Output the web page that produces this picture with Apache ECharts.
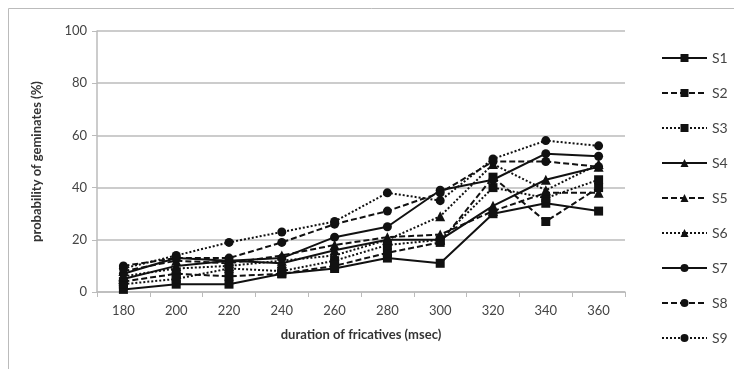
<!DOCTYPE html>
<html>
<head>
<meta charset="utf-8">
<script src="https://cdn.jsdelivr.net/npm/echarts@6/dist/echarts.min.js"></script>
<style>
  html, body { margin: 0; padding: 0; background: #fff; }
  #main { width: 734px; height: 369px; }
</style>
</head>
<body>
<div id="main"></div>
<script>
var durations = ['180', '200', '220', '240', '260', '280', '300', '320', '340', '360'];

var s1 = [1, 3, 3, 7, 9, 13, 11, 30, 34, 31];
var s2 = [4, 7, 6, 7, 10, 15, 19, 44, 27, 40];
var s3 = [3, 5, 9, 8, 12, 18, 20, 40, 36, 43];
var s4 = [5, 10, 12, 11, 16, 20, 20, 33, 43, 48];
var s5 = [8, 12, 11, 14, 18, 21, 22, 31, 38, 38];
var s6 = [6, 9, 10, 12, 14, 20, 29, 49, 39, 49];
var s7 = [7, 13, 12, 13, 21, 25, 39, 43, 53, 52];
var s8 = [10, 13, 13, 19, 26, 31, 38, 50, 50, 48];
var s9 = [9, 14, 19, 23, 27, 38, 35, 51, 58, 56];

var seriesNames = ['S1', 'S2', 'S3', 'S4', 'S5', 'S6', 'S7', 'S8', 'S9'];
var seriesData = [s1, s2, s3, s4, s5, s6, s7, s8, s9];
var lineTypes = ['solid', 'dashed', 'dotted'];
var symbols = ['rect', 'triangle', 'circle'];

var chart = echarts.init(document.getElementById('main'));

var series = seriesNames.map(function (name, i) {
  var sym = symbols[Math.floor(i / 3)];
  var type = lineTypes[i % 3];
  return {
    name: name,
    type: 'line',
    data: seriesData[i],
    symbol: sym,
    symbolSize: sym === 'triangle' ? 10 : 9,
    showAllSymbol: true,
    lineStyle: {
      color: '#111',
      width: 2,
      type: type === 'dashed' ? [6, 3] : (type === 'dotted' ? [2, 2] : 'solid')
    },
    itemStyle: { color: '#111' }
  };
});

chart.setOption({
  animation: false,
  textStyle: { fontFamily: 'Lato, sans-serif' },
  graphic: [{
    type: 'rect',
    shape: { x: 8.5, y: 8.5, width: 760, height: 400 },
    style: { fill: 'none', stroke: '#bbb', lineWidth: 1 }
  }],
  grid: { left: 97, right: 109, top: 31, bottom: 77 },
  legend: {
    orient: 'vertical',
    left: 656,
    top: 46,
    itemWidth: 45,
    itemHeight: 10,
    itemGap: 21,
    data: seriesNames,
    textStyle: { color: '#444', fontSize: 14 }
  },
  xAxis: {
    type: 'category',
    data: durations,
    name: 'duration of fricatives (msec)',
    nameLocation: 'middle',
    nameGap: 36,
    nameTextStyle: { color: '#333', fontSize: 13, fontWeight: 'bold' },
    axisLine: { lineStyle: { color: '#bbb', width: 1.5 } },
    axisTick: { show: true, lineStyle: { color: '#bbb' } },
    axisLabel: { color: '#444', fontSize: 13, margin: 12 }
  },
  yAxis: {
    type: 'value',
    min: 0,
    max: 100,
    interval: 20,
    name: 'probability of geminates (%)',
    nameLocation: 'middle',
    nameGap: 54,
    nameTextStyle: { color: '#333', fontSize: 13, fontWeight: 'bold' },
    axisLine: { show: true, lineStyle: { color: '#bbb', width: 1.5 } },
    axisTick: { show: true, length: 5, lineStyle: { color: '#bbb' } },
    axisLabel: { color: '#444', fontSize: 13, margin: 10 },
    splitLine: { lineStyle: { color: '#bbb', width: 1.5 } }
  },
  series: series
});
</script>
</body>
</html>
